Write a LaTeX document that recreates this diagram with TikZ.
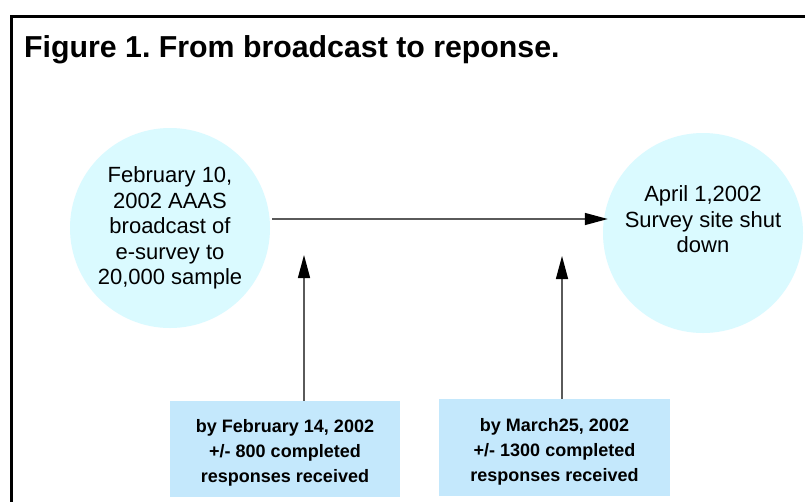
\documentclass[tikz,border=0pt]{standalone}
\usepackage{fontspec}
\setmainfont{Liberation Sans}
\usetikzlibrary{arrows.meta}
\definecolor{circfill}{RGB}{218,250,255}
\definecolor{boxfill}{RGB}{196,232,252}
\definecolor{linegray}{RGB}{90,90,90}
\frenchspacing
\tikzset{
  event/.style={circle, fill=circfill, minimum size=200pt, inner sep=0pt,
    align=center, font=\fontsize{22}{25.5}\selectfont},
  count/.style={rectangle, fill=boxfill, inner sep=0pt, align=center,
    font=\fontsize{18}{25}\selectfont\bfseries},
  arr/.style={linegray, line width=1.4pt,
    -{Triangle[length=23pt,width=12pt,black]}}
}
\begin{document}
\begin{tikzpicture}[x=1pt,y=-1pt]
    \clip (0,0) rectangle (805,501);
    \fill[white] (0,0) rectangle (805,501);
    % frame
    \draw[line width=3pt] (11,530) -- (11,16) -- (830,16);
    \node[anchor=base west, inner sep=0pt, font=\fontsize{30.3}{33}\selectfont\bfseries]
      (title) at (24,57) {Figure 1. From broadcast to reponse.};

    % the two dates
    \node[event] (start) at (170,228)
      {February 10,\\2002 AAAS\\broadcast of\\e-survey to\\20,000 sample};
    \node[event] (stop) at (703,233)
      {April 1,2002\\Survey site shut\\down\\[2pt]~};
    \draw[arr, shorten <=2pt, shorten >=-5pt] (start.east |- 0,219) -- (stop.west |- 0,219);

    % responses
    \node[count, minimum width=230pt, minimum height=96pt] (feb) at (285,449)
      {\rule{0pt}{21pt}by February 14, 2002\\+/- 800 completed\\responses received};
    \node[count, minimum width=231pt, minimum height=97pt] (mar) at (554.5,447.5)
      {\rule{0pt}{21pt}by March25, 2002\\+/- 1300 completed\\responses received};
    \coordinate (febtip) at (304,255);
    \coordinate (martip) at (562,256);
    \draw[arr] (febtip |- feb.north) -- (febtip);
    \draw[arr] (martip |- mar.north) -- (martip);
\end{tikzpicture}
\end{document}
